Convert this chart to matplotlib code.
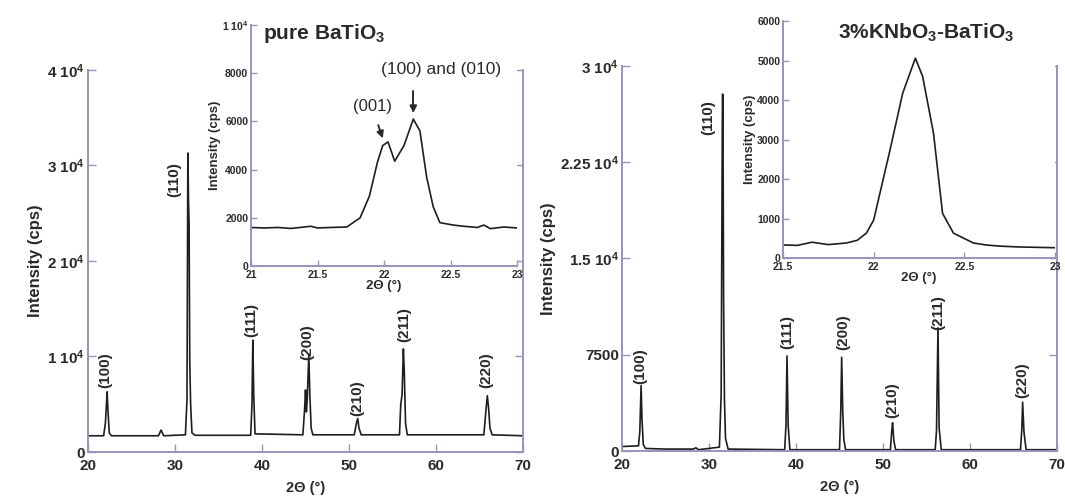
import matplotlib
matplotlib.use("Agg")
import matplotlib.pyplot as plt

plt.rcParams['font.family'] = ['Liberation Sans', 'DejaVu Sans']
plt.rcParams['mathtext.fontset'] = 'custom'
plt.rcParams['mathtext.rm'] = 'Liberation Sans:bold'
plt.rcParams['mathtext.bf'] = 'Liberation Sans:bold'
plt.rcParams['mathtext.it'] = 'Liberation Sans:bold'

# pure BaTiO3, full scan (2theta, cps)
pure_x = [20, 21.8, 22.0, 22.1, 22.2, 22.3, 22.45, 22.7, 28.1, 28.4, 28.7,
          31.2, 31.38, 31.48, 31.55, 31.62, 31.7, 31.8, 31.95, 32.3,
          38.7, 38.85, 38.95, 39.05, 39.2,
          44.7, 44.9, 45.0, 45.1, 45.2, 45.38, 45.5, 45.65, 45.85,
          50.6, 50.85, 51.0, 51.15, 51.4,
          55.8, 55.95, 56.1, 56.25, 56.35, 56.5, 56.7,
          65.5, 65.75, 65.9, 66.05, 66.2, 66.45, 70]
pure_y = [1700, 1700, 3000, 4600, 6300, 4300, 2000, 1700, 1700, 2300, 1700,
          1800, 5500, 31300, 26500, 24000, 9300, 5000, 2000, 1750,
          1750, 5000, 11700, 6000, 1900,
          1800, 4500, 6500, 4200, 5500, 10200, 6000, 2500, 1800,
          1800, 3000, 3500, 2500, 1800,
          1800, 5000, 6000, 10800, 8500, 3000, 1800,
          1800, 4500, 5900, 4500, 2500, 1800, 1700]

# 3% KNbO3-BaTiO3, full scan
knb_x = [20, 21.9, 22.05, 22.2, 22.3, 22.45, 22.7, 25, 28.2, 28.5, 28.8,
         31.2, 31.4, 31.55, 31.6, 31.68, 31.78, 31.9, 32.2,
         38.7, 38.85, 38.97, 39.1, 39.3,
         45.0, 45.15, 45.25, 45.38, 45.5, 45.7,
         50.85, 51.0, 51.1, 51.25, 51.45,
         56.0, 56.15, 56.32, 56.45, 56.7,
         65.8, 65.95, 66.05, 66.2, 66.45, 70]
knb_y = [350, 400, 1500, 5100, 2500, 500, 200, 150, 150, 250, 100,
         300, 4400, 27800, 27800, 11800, 4000, 1000, 150,
         100, 2000, 7400, 2000, 100,
         100, 3200, 7300, 3000, 900, 100,
         100, 1500, 2200, 800, 100,
         100, 1600, 9600, 1800, 100,
         100, 1600, 3800, 1500, 100, 100]

# inset: pure BaTiO3 around 22 deg
pin_x = [21.0, 21.1, 21.2, 21.3, 21.45, 21.5, 21.6, 21.72, 21.82, 21.89, 21.95,
         21.99, 22.03, 22.08, 22.15, 22.22, 22.27, 22.32, 22.37, 22.42,
         22.52, 22.6, 22.7, 22.75, 22.8, 22.9, 23.0]
pin_y = [1600, 1580, 1600, 1560, 1650, 1580, 1600, 1620, 2000, 2900, 4300,
         5000, 5150, 4350, 5000, 6100, 5600, 3700, 2450, 1800,
         1700, 1650, 1600, 1700, 1550, 1620, 1580]

# inset: 3% KNbO3-BaTiO3 around 22 deg
kin_x = [21.5, 21.58, 21.66, 21.75, 21.85, 21.91, 21.96, 22.0, 22.09, 22.16,
         22.23, 22.27, 22.33, 22.38, 22.44, 22.55, 22.62, 22.7, 22.8, 22.9, 23.0]
kin_y = [330, 320, 400, 340, 380, 450, 630, 960, 2730, 4170,
         5060, 4600, 3160, 1130, 630, 380, 330, 300, 280, 270, 260]

pure_peaks = ['(100)', '(110)', '(111)', '(200)', '(210)', '(211)', '(220)']
pure_lab_x = [22.0, 29.9, 38.8, 45.2, 51.0, 56.4, 65.8]
pure_lab_y = [8600, 28500, 13800, 11500, 5650, 13300, 8600]
knb_lab_x = [22.1, 29.9, 39.0, 45.4, 51.1, 56.4, 66.0]
knb_lab_y = [6600, 26000, 9300, 9300, 4000, 10750, 5500]

spine_c = '#9d90ba'
line_c = '#1e1e1e'
text_c = '#2a2a2a'

fig = plt.figure(figsize=(10.65, 5.01), dpi=100)


def style(ax, sides, size, tlen, xpad):
    for s in ['top', 'right', 'left', 'bottom']:
        ax.spines[s].set_visible(s in sides)
        ax.spines[s].set_color(spine_c)
        ax.spines[s].set_linewidth(1.4)
    ax.tick_params(direction='in', length=tlen, width=1.0, color=spine_c,
                   labelsize=size, labelcolor=text_c, pad=2,
                   right=('right' in sides), top=False)
    ax.tick_params(axis='x', pad=xpad)
    for t in ax.get_xticklabels() + ax.get_yticklabels():
        t.set_fontweight('bold')


def main_panel(rect, x, y, ymax, yticks, ylabels, names, lx, ly):
    ax = fig.add_axes(rect)
    ax.plot(x, y, color=line_c, lw=1.2)
    ax.set_xlim(20, 70)
    ax.set_ylim(0, ymax)
    ax.set_xticks([20, 30, 40, 50, 60, 70])
    ax.set_yticks(yticks)
    ax.set_yticklabels(ylabels)
    style(ax, ['left', 'bottom', 'right'], 11, 6, 5)
    ax.set_ylabel('Intensity (cps)', fontsize=12, fontweight='bold', color=text_c, labelpad=3)
    ax.set_xlabel('2Θ (°)', fontsize=10.5, fontweight='bold', color=text_c, labelpad=6)
    for n, a, b in zip(names, lx, ly):
        ax.text(a, b, n, rotation=90, ha='center', va='center', fontsize=11,
                fontweight='bold', color=text_c)
    return ax


def inset_panel(rect, x, y, xlim, xticks, ymax, yticks, ylabels):
    ax = fig.add_axes(rect)
    ax.set_facecolor('white')
    ax.plot(x, y, color=line_c, lw=1.2)
    ax.set_xlim(*xlim)
    ax.set_ylim(0, ymax)
    ax.set_xticks(xticks)
    ax.set_xticklabels([('%g' % t) for t in xticks])
    ax.set_yticks(yticks)
    ax.set_yticklabels(ylabels)
    style(ax, ['left', 'bottom'], 7.5, 4, 3)
    ax.set_ylabel('Intensity (cps)', fontsize=9.5, fontweight='bold', color=text_c, labelpad=1)
    ax.set_xlabel('2Θ (°)', fontsize=9.5, fontweight='bold', color=text_c, labelpad=0)
    return ax


main_panel([0.0826, 0.0978, 0.4085, 0.7625], pure_x, pure_y, 40000,
           [0, 10000, 20000, 30000, 40000],
           ['0', r'1 10$^{4}$', r'2 10$^{4}$', r'3 10$^{4}$', r'4 10$^{4}$'],
           pure_peaks, pure_lab_x, pure_lab_y)

main_panel([0.584, 0.0998, 0.4085, 0.7685], knb_x, knb_y, 30000,
           [0, 7500, 15000, 22500, 30000],
           ['0', '7500', r'1.5 10$^{4}$', r'2.25 10$^{4}$', r'3 10$^{4}$'],
           pure_peaks, knb_lab_x, knb_lab_y)

ia = inset_panel([0.2357, 0.469, 0.2498, 0.481], pin_x, pin_y, (21, 23),
                 [21, 21.5, 22, 22.5, 23], 10000,
                 [0, 2000, 4000, 6000, 8000, 10000],
                 ['0', '2000', '4000', '6000', '8000', r'1 10$^{4}$'])
ia.text(21.09, 9650, r'pure BaTiO$_\mathbf{3}$', fontsize=15, fontweight='bold',
        color=text_c, va='center')
ia.annotate('(001)', xy=(21.99, 5300), xytext=(21.91, 6600), fontsize=12,
            ha='center', va='center', color=text_c,
            arrowprops=dict(arrowstyle='-|>', color=text_c, lw=1.4,
                            shrinkA=6, shrinkB=0, mutation_scale=10))
ia.annotate('(100) and (010)', xy=(22.22, 6350), xytext=(22.43, 8150), fontsize=12.5,
            ha='center', va='center', color=text_c,
            arrowprops=dict(arrowstyle='-|>', color=text_c, lw=1.4,
                            shrinkA=8, shrinkB=0, mutation_scale=10,
                            connectionstyle='angle,angleA=0,angleB=90,rad=0',
                            relpos=(0.33, 0.0)))

ib = inset_panel([0.7352, 0.485, 0.2554, 0.473], kin_x, kin_y, (21.5, 23),
                 [21.5, 22, 22.5, 23], 6000,
                 [0, 1000, 2000, 3000, 4000, 5000, 6000],
                 ['0', '1000', '2000', '3000', '4000', '5000', '6000'])
ib.text(22.29, 5700, r'3%KNbO$_\mathbf{3}$-BaTiO$_\mathbf{3}$', fontsize=15,
        fontweight='bold', color=text_c, ha='center', va='center')

fig.savefig('out.png', dpi=100)
